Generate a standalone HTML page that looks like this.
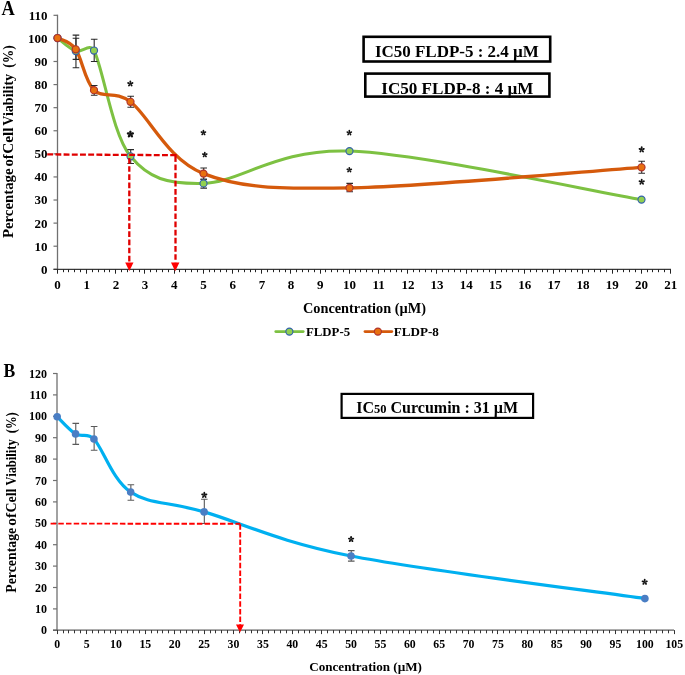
<!DOCTYPE html><html><head><meta charset="utf-8"><style>html,body{margin:0;padding:0;background:#fff;overflow:hidden}svg{display:block;will-change:transform}text{font-family:"Liberation Serif", serif;font-weight:bold;fill:#000}</style></head><body>
<svg width="685" height="675" viewBox="0 0 685 675">
<rect width="685" height="675" fill="#fff"/>
<line x1="57.50" y1="14.71" x2="57.50" y2="269.40" stroke="#707070" stroke-width="1.3"/>
<line x1="53.50" y1="269.30" x2="57.50" y2="269.30" stroke="#707070" stroke-width="1.2"/>
<text x="47.50" y="273.72" font-size="13" text-anchor="end">0</text>
<line x1="53.50" y1="246.21" x2="57.50" y2="246.21" stroke="#707070" stroke-width="1.2"/>
<text x="47.50" y="250.63" font-size="13" text-anchor="end">10</text>
<line x1="53.50" y1="223.12" x2="57.50" y2="223.12" stroke="#707070" stroke-width="1.2"/>
<text x="47.50" y="227.54" font-size="13" text-anchor="end">20</text>
<line x1="53.50" y1="200.03" x2="57.50" y2="200.03" stroke="#707070" stroke-width="1.2"/>
<text x="47.50" y="204.45" font-size="13" text-anchor="end">30</text>
<line x1="53.50" y1="176.94" x2="57.50" y2="176.94" stroke="#707070" stroke-width="1.2"/>
<text x="47.50" y="181.36" font-size="13" text-anchor="end">40</text>
<line x1="53.50" y1="153.85" x2="57.50" y2="153.85" stroke="#707070" stroke-width="1.2"/>
<text x="47.50" y="158.27" font-size="13" text-anchor="end">50</text>
<line x1="53.50" y1="130.76" x2="57.50" y2="130.76" stroke="#707070" stroke-width="1.2"/>
<text x="47.50" y="135.18" font-size="13" text-anchor="end">60</text>
<line x1="53.50" y1="107.67" x2="57.50" y2="107.67" stroke="#707070" stroke-width="1.2"/>
<text x="47.50" y="112.09" font-size="13" text-anchor="end">70</text>
<line x1="53.50" y1="84.58" x2="57.50" y2="84.58" stroke="#707070" stroke-width="1.2"/>
<text x="47.50" y="89.00" font-size="13" text-anchor="end">80</text>
<line x1="53.50" y1="61.49" x2="57.50" y2="61.49" stroke="#707070" stroke-width="1.2"/>
<text x="47.50" y="65.91" font-size="13" text-anchor="end">90</text>
<line x1="53.50" y1="38.40" x2="57.50" y2="38.40" stroke="#707070" stroke-width="1.2"/>
<text x="47.50" y="42.82" font-size="13" text-anchor="end">100</text>
<line x1="53.50" y1="15.31" x2="57.50" y2="15.31" stroke="#707070" stroke-width="1.2"/>
<text x="47.50" y="19.73" font-size="13" text-anchor="end">110</text>
<line x1="53.50" y1="269.40" x2="671.00" y2="269.40" stroke="#383838" stroke-width="1.2"/>
<line x1="57.50" y1="269.40" x2="57.50" y2="273.70" stroke="#222" stroke-width="1"/>
<text x="57.50" y="289.00" font-size="13" text-anchor="middle">0</text>
<line x1="63.50" y1="269.40" x2="63.50" y2="272.20" stroke="#222" stroke-width="1"/>
<line x1="68.50" y1="269.40" x2="68.50" y2="272.20" stroke="#222" stroke-width="1"/>
<line x1="74.50" y1="269.40" x2="74.50" y2="272.20" stroke="#222" stroke-width="1"/>
<line x1="80.50" y1="269.40" x2="80.50" y2="272.20" stroke="#222" stroke-width="1"/>
<line x1="86.50" y1="269.40" x2="86.50" y2="273.70" stroke="#222" stroke-width="1"/>
<text x="86.70" y="289.00" font-size="13" text-anchor="middle">1</text>
<line x1="92.50" y1="269.40" x2="92.50" y2="272.20" stroke="#222" stroke-width="1"/>
<line x1="98.50" y1="269.40" x2="98.50" y2="272.20" stroke="#222" stroke-width="1"/>
<line x1="104.50" y1="269.40" x2="104.50" y2="272.20" stroke="#222" stroke-width="1"/>
<line x1="109.50" y1="269.40" x2="109.50" y2="272.20" stroke="#222" stroke-width="1"/>
<line x1="115.50" y1="269.40" x2="115.50" y2="273.70" stroke="#222" stroke-width="1"/>
<text x="115.90" y="289.00" font-size="13" text-anchor="middle">2</text>
<line x1="121.50" y1="269.40" x2="121.50" y2="272.20" stroke="#222" stroke-width="1"/>
<line x1="127.50" y1="269.40" x2="127.50" y2="272.20" stroke="#222" stroke-width="1"/>
<line x1="133.50" y1="269.40" x2="133.50" y2="272.20" stroke="#222" stroke-width="1"/>
<line x1="139.50" y1="269.40" x2="139.50" y2="272.20" stroke="#222" stroke-width="1"/>
<line x1="144.50" y1="269.40" x2="144.50" y2="273.70" stroke="#222" stroke-width="1"/>
<text x="145.10" y="289.00" font-size="13" text-anchor="middle">3</text>
<line x1="150.50" y1="269.40" x2="150.50" y2="272.20" stroke="#222" stroke-width="1"/>
<line x1="156.50" y1="269.40" x2="156.50" y2="272.20" stroke="#222" stroke-width="1"/>
<line x1="162.50" y1="269.40" x2="162.50" y2="272.20" stroke="#222" stroke-width="1"/>
<line x1="168.50" y1="269.40" x2="168.50" y2="272.20" stroke="#222" stroke-width="1"/>
<line x1="174.50" y1="269.40" x2="174.50" y2="273.70" stroke="#222" stroke-width="1"/>
<text x="174.30" y="289.00" font-size="13" text-anchor="middle">4</text>
<line x1="179.50" y1="269.40" x2="179.50" y2="272.20" stroke="#222" stroke-width="1"/>
<line x1="185.50" y1="269.40" x2="185.50" y2="272.20" stroke="#222" stroke-width="1"/>
<line x1="191.50" y1="269.40" x2="191.50" y2="272.20" stroke="#222" stroke-width="1"/>
<line x1="197.50" y1="269.40" x2="197.50" y2="272.20" stroke="#222" stroke-width="1"/>
<line x1="203.50" y1="269.40" x2="203.50" y2="273.70" stroke="#222" stroke-width="1"/>
<text x="203.50" y="289.00" font-size="13" text-anchor="middle">5</text>
<line x1="209.50" y1="269.40" x2="209.50" y2="272.20" stroke="#222" stroke-width="1"/>
<line x1="214.50" y1="269.40" x2="214.50" y2="272.20" stroke="#222" stroke-width="1"/>
<line x1="220.50" y1="269.40" x2="220.50" y2="272.20" stroke="#222" stroke-width="1"/>
<line x1="226.50" y1="269.40" x2="226.50" y2="272.20" stroke="#222" stroke-width="1"/>
<line x1="232.50" y1="269.40" x2="232.50" y2="273.70" stroke="#222" stroke-width="1"/>
<text x="232.70" y="289.00" font-size="13" text-anchor="middle">6</text>
<line x1="238.50" y1="269.40" x2="238.50" y2="272.20" stroke="#222" stroke-width="1"/>
<line x1="244.50" y1="269.40" x2="244.50" y2="272.20" stroke="#222" stroke-width="1"/>
<line x1="250.50" y1="269.40" x2="250.50" y2="272.20" stroke="#222" stroke-width="1"/>
<line x1="255.50" y1="269.40" x2="255.50" y2="272.20" stroke="#222" stroke-width="1"/>
<line x1="261.50" y1="269.40" x2="261.50" y2="273.70" stroke="#222" stroke-width="1"/>
<text x="261.90" y="289.00" font-size="13" text-anchor="middle">7</text>
<line x1="267.50" y1="269.40" x2="267.50" y2="272.20" stroke="#222" stroke-width="1"/>
<line x1="273.50" y1="269.40" x2="273.50" y2="272.20" stroke="#222" stroke-width="1"/>
<line x1="279.50" y1="269.40" x2="279.50" y2="272.20" stroke="#222" stroke-width="1"/>
<line x1="285.50" y1="269.40" x2="285.50" y2="272.20" stroke="#222" stroke-width="1"/>
<line x1="290.50" y1="269.40" x2="290.50" y2="273.70" stroke="#222" stroke-width="1"/>
<text x="291.10" y="289.00" font-size="13" text-anchor="middle">8</text>
<line x1="296.50" y1="269.40" x2="296.50" y2="272.20" stroke="#222" stroke-width="1"/>
<line x1="302.50" y1="269.40" x2="302.50" y2="272.20" stroke="#222" stroke-width="1"/>
<line x1="308.50" y1="269.40" x2="308.50" y2="272.20" stroke="#222" stroke-width="1"/>
<line x1="314.50" y1="269.40" x2="314.50" y2="272.20" stroke="#222" stroke-width="1"/>
<line x1="320.50" y1="269.40" x2="320.50" y2="273.70" stroke="#222" stroke-width="1"/>
<text x="320.30" y="289.00" font-size="13" text-anchor="middle">9</text>
<line x1="325.50" y1="269.40" x2="325.50" y2="272.20" stroke="#222" stroke-width="1"/>
<line x1="331.50" y1="269.40" x2="331.50" y2="272.20" stroke="#222" stroke-width="1"/>
<line x1="337.50" y1="269.40" x2="337.50" y2="272.20" stroke="#222" stroke-width="1"/>
<line x1="343.50" y1="269.40" x2="343.50" y2="272.20" stroke="#222" stroke-width="1"/>
<line x1="349.50" y1="269.40" x2="349.50" y2="273.70" stroke="#222" stroke-width="1"/>
<text x="349.50" y="289.00" font-size="13" text-anchor="middle">10</text>
<line x1="355.50" y1="269.40" x2="355.50" y2="272.20" stroke="#222" stroke-width="1"/>
<line x1="360.50" y1="269.40" x2="360.50" y2="272.20" stroke="#222" stroke-width="1"/>
<line x1="366.50" y1="269.40" x2="366.50" y2="272.20" stroke="#222" stroke-width="1"/>
<line x1="372.50" y1="269.40" x2="372.50" y2="272.20" stroke="#222" stroke-width="1"/>
<line x1="378.50" y1="269.40" x2="378.50" y2="273.70" stroke="#222" stroke-width="1"/>
<text x="378.70" y="289.00" font-size="13" text-anchor="middle">11</text>
<line x1="384.50" y1="269.40" x2="384.50" y2="272.20" stroke="#222" stroke-width="1"/>
<line x1="390.50" y1="269.40" x2="390.50" y2="272.20" stroke="#222" stroke-width="1"/>
<line x1="396.50" y1="269.40" x2="396.50" y2="272.20" stroke="#222" stroke-width="1"/>
<line x1="401.50" y1="269.40" x2="401.50" y2="272.20" stroke="#222" stroke-width="1"/>
<line x1="407.50" y1="269.40" x2="407.50" y2="273.70" stroke="#222" stroke-width="1"/>
<text x="407.90" y="289.00" font-size="13" text-anchor="middle">12</text>
<line x1="413.50" y1="269.40" x2="413.50" y2="272.20" stroke="#222" stroke-width="1"/>
<line x1="419.50" y1="269.40" x2="419.50" y2="272.20" stroke="#222" stroke-width="1"/>
<line x1="425.50" y1="269.40" x2="425.50" y2="272.20" stroke="#222" stroke-width="1"/>
<line x1="431.50" y1="269.40" x2="431.50" y2="272.20" stroke="#222" stroke-width="1"/>
<line x1="436.50" y1="269.40" x2="436.50" y2="273.70" stroke="#222" stroke-width="1"/>
<text x="437.10" y="289.00" font-size="13" text-anchor="middle">13</text>
<line x1="442.50" y1="269.40" x2="442.50" y2="272.20" stroke="#222" stroke-width="1"/>
<line x1="448.50" y1="269.40" x2="448.50" y2="272.20" stroke="#222" stroke-width="1"/>
<line x1="454.50" y1="269.40" x2="454.50" y2="272.20" stroke="#222" stroke-width="1"/>
<line x1="460.50" y1="269.40" x2="460.50" y2="272.20" stroke="#222" stroke-width="1"/>
<line x1="466.50" y1="269.40" x2="466.50" y2="273.70" stroke="#222" stroke-width="1"/>
<text x="466.30" y="289.00" font-size="13" text-anchor="middle">14</text>
<line x1="471.50" y1="269.40" x2="471.50" y2="272.20" stroke="#222" stroke-width="1"/>
<line x1="477.50" y1="269.40" x2="477.50" y2="272.20" stroke="#222" stroke-width="1"/>
<line x1="483.50" y1="269.40" x2="483.50" y2="272.20" stroke="#222" stroke-width="1"/>
<line x1="489.50" y1="269.40" x2="489.50" y2="272.20" stroke="#222" stroke-width="1"/>
<line x1="495.50" y1="269.40" x2="495.50" y2="273.70" stroke="#222" stroke-width="1"/>
<text x="495.50" y="289.00" font-size="13" text-anchor="middle">15</text>
<line x1="501.50" y1="269.40" x2="501.50" y2="272.20" stroke="#222" stroke-width="1"/>
<line x1="506.50" y1="269.40" x2="506.50" y2="272.20" stroke="#222" stroke-width="1"/>
<line x1="512.50" y1="269.40" x2="512.50" y2="272.20" stroke="#222" stroke-width="1"/>
<line x1="518.50" y1="269.40" x2="518.50" y2="272.20" stroke="#222" stroke-width="1"/>
<line x1="524.50" y1="269.40" x2="524.50" y2="273.70" stroke="#222" stroke-width="1"/>
<text x="524.70" y="289.00" font-size="13" text-anchor="middle">16</text>
<line x1="530.50" y1="269.40" x2="530.50" y2="272.20" stroke="#222" stroke-width="1"/>
<line x1="536.50" y1="269.40" x2="536.50" y2="272.20" stroke="#222" stroke-width="1"/>
<line x1="542.50" y1="269.40" x2="542.50" y2="272.20" stroke="#222" stroke-width="1"/>
<line x1="547.50" y1="269.40" x2="547.50" y2="272.20" stroke="#222" stroke-width="1"/>
<line x1="553.50" y1="269.40" x2="553.50" y2="273.70" stroke="#222" stroke-width="1"/>
<text x="553.90" y="289.00" font-size="13" text-anchor="middle">17</text>
<line x1="559.50" y1="269.40" x2="559.50" y2="272.20" stroke="#222" stroke-width="1"/>
<line x1="565.50" y1="269.40" x2="565.50" y2="272.20" stroke="#222" stroke-width="1"/>
<line x1="571.50" y1="269.40" x2="571.50" y2="272.20" stroke="#222" stroke-width="1"/>
<line x1="577.50" y1="269.40" x2="577.50" y2="272.20" stroke="#222" stroke-width="1"/>
<line x1="582.50" y1="269.40" x2="582.50" y2="273.70" stroke="#222" stroke-width="1"/>
<text x="583.10" y="289.00" font-size="13" text-anchor="middle">18</text>
<line x1="588.50" y1="269.40" x2="588.50" y2="272.20" stroke="#222" stroke-width="1"/>
<line x1="594.50" y1="269.40" x2="594.50" y2="272.20" stroke="#222" stroke-width="1"/>
<line x1="600.50" y1="269.40" x2="600.50" y2="272.20" stroke="#222" stroke-width="1"/>
<line x1="606.50" y1="269.40" x2="606.50" y2="272.20" stroke="#222" stroke-width="1"/>
<line x1="612.50" y1="269.40" x2="612.50" y2="273.70" stroke="#222" stroke-width="1"/>
<text x="612.30" y="289.00" font-size="13" text-anchor="middle">19</text>
<line x1="617.50" y1="269.40" x2="617.50" y2="272.20" stroke="#222" stroke-width="1"/>
<line x1="623.50" y1="269.40" x2="623.50" y2="272.20" stroke="#222" stroke-width="1"/>
<line x1="629.50" y1="269.40" x2="629.50" y2="272.20" stroke="#222" stroke-width="1"/>
<line x1="635.50" y1="269.40" x2="635.50" y2="272.20" stroke="#222" stroke-width="1"/>
<line x1="641.50" y1="269.40" x2="641.50" y2="273.70" stroke="#222" stroke-width="1"/>
<text x="641.50" y="289.00" font-size="13" text-anchor="middle">20</text>
<line x1="647.50" y1="269.40" x2="647.50" y2="272.20" stroke="#222" stroke-width="1"/>
<line x1="652.50" y1="269.40" x2="652.50" y2="272.20" stroke="#222" stroke-width="1"/>
<line x1="658.50" y1="269.40" x2="658.50" y2="272.20" stroke="#222" stroke-width="1"/>
<line x1="664.50" y1="269.40" x2="664.50" y2="272.20" stroke="#222" stroke-width="1"/>
<line x1="670.50" y1="269.40" x2="670.50" y2="273.70" stroke="#222" stroke-width="1"/>
<text x="670.70" y="289.00" font-size="13" text-anchor="middle">21</text>
<path d="M57.50,38.00 C60.54,40.17 69.67,48.92 75.75,51.00 C81.83,53.08 89.79,42.40 94.00,50.50 C103.12,68.05 112.25,134.15 130.50,156.30 C148.75,178.45 167.00,184.27 203.50,183.40 C240.00,182.53 276.50,148.40 349.50,151.10 C422.50,153.80 592.83,191.52 641.50,199.60" fill="none" stroke="#7DC142" stroke-width="3" stroke-linecap="round"/>
<path d="M57.50,38.00 C60.54,39.88 69.67,40.60 75.75,49.30 C81.83,58.00 84.88,81.45 94.00,90.20 C103.12,98.95 115.27,90.20 130.50,101.80 C148.75,115.70 167.00,159.25 203.50,173.60 C240.00,187.95 276.50,188.95 349.50,187.90 C422.50,186.85 592.83,170.73 641.50,167.30" fill="none" stroke="#D55A0C" stroke-width="3.3" stroke-linecap="round"/>
<path d="M75.95,35.10 V67.70 M72.65,35.10 H79.25 M72.65,67.70 H79.25" stroke="#2a2a2a" stroke-width="1.1" fill="none"/>
<path d="M94.20,39.20 V61.50 M90.90,39.20 H97.50 M90.90,61.50 H97.50" stroke="#2a2a2a" stroke-width="1.1" fill="none"/>
<path d="M130.70,149.60 V163.50 M127.40,149.60 H134.00 M127.40,163.50 H134.00" stroke="#2a2a2a" stroke-width="1.1" fill="none"/>
<path d="M203.70,179.30 V188.10 M200.40,179.30 H207.00 M200.40,188.10 H207.00" stroke="#2a2a2a" stroke-width="1.1" fill="none"/>
<path d="M75.95,38.30 V59.40 M72.65,38.30 H79.25 M72.65,59.40 H79.25" stroke="#2a2a2a" stroke-width="1.1" fill="none"/>
<path d="M94.20,85.50 V95.20 M90.90,85.50 H97.50 M90.90,95.20 H97.50" stroke="#2a2a2a" stroke-width="1.1" fill="none"/>
<path d="M130.70,96.30 V107.30 M127.40,96.30 H134.00 M127.40,107.30 H134.00" stroke="#2a2a2a" stroke-width="1.1" fill="none"/>
<path d="M203.70,168.00 V179.30 M200.40,168.00 H207.00 M200.40,179.30 H207.00" stroke="#2a2a2a" stroke-width="1.1" fill="none"/>
<path d="M349.70,183.40 V191.70 M346.40,183.40 H353.00 M346.40,191.70 H353.00" stroke="#2a2a2a" stroke-width="1.1" fill="none"/>
<path d="M641.70,161.30 V173.30 M638.40,161.30 H645.00 M638.40,173.30 H645.00" stroke="#2a2a2a" stroke-width="1.1" fill="none"/>
<circle cx="57.50" cy="38.00" r="3.55" fill="#92D050" stroke="#3462AC" stroke-width="1.15"/>
<circle cx="75.75" cy="51.00" r="3.55" fill="#92D050" stroke="#3462AC" stroke-width="1.15"/>
<circle cx="94.00" cy="50.50" r="3.55" fill="#92D050" stroke="#3462AC" stroke-width="1.15"/>
<circle cx="130.50" cy="156.30" r="3.55" fill="#92D050" stroke="#3462AC" stroke-width="1.15"/>
<circle cx="203.50" cy="183.40" r="3.55" fill="#92D050" stroke="#3462AC" stroke-width="1.15"/>
<circle cx="349.50" cy="151.10" r="3.55" fill="#92D050" stroke="#3462AC" stroke-width="1.15"/>
<circle cx="641.50" cy="199.60" r="3.55" fill="#92D050" stroke="#3462AC" stroke-width="1.15"/>
<circle cx="57.50" cy="38.00" r="3.55" fill="#E8700F" stroke="#B0342C" stroke-width="1.15"/>
<circle cx="75.75" cy="49.30" r="3.55" fill="#E8700F" stroke="#B0342C" stroke-width="1.15"/>
<circle cx="94.00" cy="90.20" r="3.55" fill="#E8700F" stroke="#B0342C" stroke-width="1.15"/>
<circle cx="130.50" cy="101.80" r="3.55" fill="#E8700F" stroke="#B0342C" stroke-width="1.15"/>
<circle cx="203.50" cy="173.60" r="3.55" fill="#E8700F" stroke="#B0342C" stroke-width="1.15"/>
<circle cx="349.50" cy="187.90" r="3.55" fill="#E8700F" stroke="#B0342C" stroke-width="1.15"/>
<circle cx="641.50" cy="167.30" r="3.55" fill="#E8700F" stroke="#B0342C" stroke-width="1.15"/>
<g fill="#111"><ellipse cx="130.30" cy="81.75" rx="1.30" ry="0.94" transform="rotate(-90.0 130.30 81.75)"/><ellipse cx="132.15" cy="83.10" rx="1.30" ry="0.94" transform="rotate(-18.0 132.15 83.10)"/><ellipse cx="131.45" cy="85.28" rx="1.30" ry="0.94" transform="rotate(54.0 131.45 85.28)"/><ellipse cx="129.15" cy="85.28" rx="1.30" ry="0.94" transform="rotate(126.0 129.15 85.28)"/><ellipse cx="128.45" cy="83.10" rx="1.30" ry="0.94" transform="rotate(198.0 128.45 83.10)"/><circle cx="130.30" cy="83.70" r="1.04"/></g>
<g fill="#111"><ellipse cx="130.40" cy="132.01" rx="1.59" ry="1.25" transform="rotate(-90.0 130.40 132.01)"/><ellipse cx="132.49" cy="133.52" rx="1.59" ry="1.25" transform="rotate(-18.0 132.49 133.52)"/><ellipse cx="131.69" cy="135.97" rx="1.59" ry="1.25" transform="rotate(54.0 131.69 135.97)"/><ellipse cx="129.11" cy="135.97" rx="1.59" ry="1.25" transform="rotate(126.0 129.11 135.97)"/><ellipse cx="128.31" cy="133.52" rx="1.59" ry="1.25" transform="rotate(198.0 128.31 133.52)"/><circle cx="130.40" cy="134.20" r="1.21"/></g>
<g fill="#111"><ellipse cx="203.40" cy="130.90" rx="1.20" ry="0.87" transform="rotate(-90.0 203.40 130.90)"/><ellipse cx="205.11" cy="132.14" rx="1.20" ry="0.87" transform="rotate(-18.0 205.11 132.14)"/><ellipse cx="204.46" cy="134.16" rx="1.20" ry="0.87" transform="rotate(54.0 204.46 134.16)"/><ellipse cx="202.34" cy="134.16" rx="1.20" ry="0.87" transform="rotate(126.0 202.34 134.16)"/><ellipse cx="201.69" cy="132.14" rx="1.20" ry="0.87" transform="rotate(198.0 201.69 132.14)"/><circle cx="203.40" cy="132.70" r="0.96"/></g>
<g fill="#111"><ellipse cx="204.80" cy="152.90" rx="1.20" ry="0.87" transform="rotate(-90.0 204.80 152.90)"/><ellipse cx="206.51" cy="154.14" rx="1.20" ry="0.87" transform="rotate(-18.0 206.51 154.14)"/><ellipse cx="205.86" cy="156.16" rx="1.20" ry="0.87" transform="rotate(54.0 205.86 156.16)"/><ellipse cx="203.74" cy="156.16" rx="1.20" ry="0.87" transform="rotate(126.0 203.74 156.16)"/><ellipse cx="203.09" cy="154.14" rx="1.20" ry="0.87" transform="rotate(198.0 203.09 154.14)"/><circle cx="204.80" cy="154.70" r="0.96"/></g>
<g fill="#111"><ellipse cx="349.30" cy="131.00" rx="1.20" ry="0.87" transform="rotate(-90.0 349.30 131.00)"/><ellipse cx="351.01" cy="132.24" rx="1.20" ry="0.87" transform="rotate(-18.0 351.01 132.24)"/><ellipse cx="350.36" cy="134.26" rx="1.20" ry="0.87" transform="rotate(54.0 350.36 134.26)"/><ellipse cx="348.24" cy="134.26" rx="1.20" ry="0.87" transform="rotate(126.0 348.24 134.26)"/><ellipse cx="347.59" cy="132.24" rx="1.20" ry="0.87" transform="rotate(198.0 347.59 132.24)"/><circle cx="349.30" cy="132.80" r="0.96"/></g>
<g fill="#111"><ellipse cx="349.30" cy="168.10" rx="1.20" ry="0.87" transform="rotate(-90.0 349.30 168.10)"/><ellipse cx="351.01" cy="169.34" rx="1.20" ry="0.87" transform="rotate(-18.0 351.01 169.34)"/><ellipse cx="350.36" cy="171.36" rx="1.20" ry="0.87" transform="rotate(54.0 350.36 171.36)"/><ellipse cx="348.24" cy="171.36" rx="1.20" ry="0.87" transform="rotate(126.0 348.24 171.36)"/><ellipse cx="347.59" cy="169.34" rx="1.20" ry="0.87" transform="rotate(198.0 347.59 169.34)"/><circle cx="349.30" cy="169.90" r="0.96"/></g>
<g fill="#111"><ellipse cx="641.70" cy="147.65" rx="1.30" ry="0.94" transform="rotate(-90.0 641.70 147.65)"/><ellipse cx="643.55" cy="149.00" rx="1.30" ry="0.94" transform="rotate(-18.0 643.55 149.00)"/><ellipse cx="642.85" cy="151.18" rx="1.30" ry="0.94" transform="rotate(54.0 642.85 151.18)"/><ellipse cx="640.55" cy="151.18" rx="1.30" ry="0.94" transform="rotate(126.0 640.55 151.18)"/><ellipse cx="639.85" cy="149.00" rx="1.30" ry="0.94" transform="rotate(198.0 639.85 149.00)"/><circle cx="641.70" cy="149.60" r="1.04"/></g>
<g fill="#111"><ellipse cx="641.70" cy="179.95" rx="1.30" ry="0.94" transform="rotate(-90.0 641.70 179.95)"/><ellipse cx="643.55" cy="181.30" rx="1.30" ry="0.94" transform="rotate(-18.0 643.55 181.30)"/><ellipse cx="642.85" cy="183.48" rx="1.30" ry="0.94" transform="rotate(54.0 642.85 183.48)"/><ellipse cx="640.55" cy="183.48" rx="1.30" ry="0.94" transform="rotate(126.0 640.55 183.48)"/><ellipse cx="639.85" cy="181.30" rx="1.30" ry="0.94" transform="rotate(198.0 639.85 181.30)"/><circle cx="641.70" cy="181.90" r="1.04"/></g>
<rect x="363.6" y="36.8" width="186.6" height="24.7" fill="#fff" stroke="#000" stroke-width="2.6"/>
<rect x="365.3" y="73.6" width="184.1" height="23.0" fill="#fff" stroke="#000" stroke-width="2.6"/>
<line x1="275.7" y1="331.6" x2="303.3" y2="331.6" stroke="#7DC142" stroke-width="2.6" stroke-linecap="round"/>
<circle cx="289.4" cy="331.6" r="3.55" fill="#92D050" stroke="#3462AC" stroke-width="1.15"/>
<line x1="365.0" y1="331.6" x2="391.8" y2="331.6" stroke="#D55A0C" stroke-width="2.8" stroke-linecap="round"/>
<circle cx="377.9" cy="331.6" r="3.55" fill="#E8700F" stroke="#B0342C" stroke-width="1.15"/>
<line x1="57.00" y1="372.90" x2="57.00" y2="630.10" stroke="#707070" stroke-width="1.3"/>
<line x1="53.00" y1="630.30" x2="57.00" y2="630.30" stroke="#707070" stroke-width="1.2"/>
<text x="46.90" y="634.38" font-size="12" text-anchor="end">0</text>
<line x1="53.00" y1="608.90" x2="57.00" y2="608.90" stroke="#707070" stroke-width="1.2"/>
<text x="46.90" y="612.98" font-size="12" text-anchor="end">10</text>
<line x1="53.00" y1="587.50" x2="57.00" y2="587.50" stroke="#707070" stroke-width="1.2"/>
<text x="46.90" y="591.58" font-size="12" text-anchor="end">20</text>
<line x1="53.00" y1="566.10" x2="57.00" y2="566.10" stroke="#707070" stroke-width="1.2"/>
<text x="46.90" y="570.18" font-size="12" text-anchor="end">30</text>
<line x1="53.00" y1="544.70" x2="57.00" y2="544.70" stroke="#707070" stroke-width="1.2"/>
<text x="46.90" y="548.78" font-size="12" text-anchor="end">40</text>
<line x1="53.00" y1="523.30" x2="57.00" y2="523.30" stroke="#707070" stroke-width="1.2"/>
<text x="46.90" y="527.38" font-size="12" text-anchor="end">50</text>
<line x1="53.00" y1="501.90" x2="57.00" y2="501.90" stroke="#707070" stroke-width="1.2"/>
<text x="46.90" y="505.98" font-size="12" text-anchor="end">60</text>
<line x1="53.00" y1="480.50" x2="57.00" y2="480.50" stroke="#707070" stroke-width="1.2"/>
<text x="46.90" y="484.58" font-size="12" text-anchor="end">70</text>
<line x1="53.00" y1="459.10" x2="57.00" y2="459.10" stroke="#707070" stroke-width="1.2"/>
<text x="46.90" y="463.18" font-size="12" text-anchor="end">80</text>
<line x1="53.00" y1="437.70" x2="57.00" y2="437.70" stroke="#707070" stroke-width="1.2"/>
<text x="46.90" y="441.78" font-size="12" text-anchor="end">90</text>
<line x1="53.00" y1="416.30" x2="57.00" y2="416.30" stroke="#707070" stroke-width="1.2"/>
<text x="46.90" y="420.38" font-size="12" text-anchor="end">100</text>
<line x1="53.00" y1="394.90" x2="57.00" y2="394.90" stroke="#707070" stroke-width="1.2"/>
<text x="46.90" y="398.98" font-size="12" text-anchor="end">110</text>
<line x1="53.00" y1="373.50" x2="57.00" y2="373.50" stroke="#707070" stroke-width="1.2"/>
<text x="46.90" y="377.58" font-size="12" text-anchor="end">120</text>
<line x1="53.00" y1="630.10" x2="674.00" y2="630.10" stroke="#5c5c5c" stroke-width="1.2"/>
<line x1="57.50" y1="630.10" x2="57.50" y2="634.10" stroke="#333" stroke-width="1"/>
<text x="57.20" y="648.20" font-size="11.8" text-anchor="middle">0</text>
<line x1="63.50" y1="630.10" x2="63.50" y2="633.30" stroke="#333" stroke-width="1"/>
<line x1="68.50" y1="630.10" x2="68.50" y2="633.30" stroke="#333" stroke-width="1"/>
<line x1="74.50" y1="630.10" x2="74.50" y2="633.30" stroke="#333" stroke-width="1"/>
<line x1="80.50" y1="630.10" x2="80.50" y2="633.30" stroke="#333" stroke-width="1"/>
<line x1="86.50" y1="630.10" x2="86.50" y2="634.10" stroke="#333" stroke-width="1"/>
<text x="86.59" y="648.20" font-size="11.8" text-anchor="middle">5</text>
<line x1="92.50" y1="630.10" x2="92.50" y2="633.30" stroke="#333" stroke-width="1"/>
<line x1="98.50" y1="630.10" x2="98.50" y2="633.30" stroke="#333" stroke-width="1"/>
<line x1="104.50" y1="630.10" x2="104.50" y2="633.30" stroke="#333" stroke-width="1"/>
<line x1="110.50" y1="630.10" x2="110.50" y2="633.30" stroke="#333" stroke-width="1"/>
<line x1="115.50" y1="630.10" x2="115.50" y2="634.10" stroke="#333" stroke-width="1"/>
<text x="115.97" y="648.20" font-size="11.8" text-anchor="middle">10</text>
<line x1="121.50" y1="630.10" x2="121.50" y2="633.30" stroke="#333" stroke-width="1"/>
<line x1="127.50" y1="630.10" x2="127.50" y2="633.30" stroke="#333" stroke-width="1"/>
<line x1="133.50" y1="630.10" x2="133.50" y2="633.30" stroke="#333" stroke-width="1"/>
<line x1="139.50" y1="630.10" x2="139.50" y2="633.30" stroke="#333" stroke-width="1"/>
<line x1="145.50" y1="630.10" x2="145.50" y2="634.10" stroke="#333" stroke-width="1"/>
<text x="145.36" y="648.20" font-size="11.8" text-anchor="middle">15</text>
<line x1="151.50" y1="630.10" x2="151.50" y2="633.30" stroke="#333" stroke-width="1"/>
<line x1="157.50" y1="630.10" x2="157.50" y2="633.30" stroke="#333" stroke-width="1"/>
<line x1="162.50" y1="630.10" x2="162.50" y2="633.30" stroke="#333" stroke-width="1"/>
<line x1="168.50" y1="630.10" x2="168.50" y2="633.30" stroke="#333" stroke-width="1"/>
<line x1="174.50" y1="630.10" x2="174.50" y2="634.10" stroke="#333" stroke-width="1"/>
<text x="174.74" y="648.20" font-size="11.8" text-anchor="middle">20</text>
<line x1="180.50" y1="630.10" x2="180.50" y2="633.30" stroke="#333" stroke-width="1"/>
<line x1="186.50" y1="630.10" x2="186.50" y2="633.30" stroke="#333" stroke-width="1"/>
<line x1="192.50" y1="630.10" x2="192.50" y2="633.30" stroke="#333" stroke-width="1"/>
<line x1="198.50" y1="630.10" x2="198.50" y2="633.30" stroke="#333" stroke-width="1"/>
<line x1="204.50" y1="630.10" x2="204.50" y2="634.10" stroke="#333" stroke-width="1"/>
<text x="204.12" y="648.20" font-size="11.8" text-anchor="middle">25</text>
<line x1="210.50" y1="630.10" x2="210.50" y2="633.30" stroke="#333" stroke-width="1"/>
<line x1="215.50" y1="630.10" x2="215.50" y2="633.30" stroke="#333" stroke-width="1"/>
<line x1="221.50" y1="630.10" x2="221.50" y2="633.30" stroke="#333" stroke-width="1"/>
<line x1="227.50" y1="630.10" x2="227.50" y2="633.30" stroke="#333" stroke-width="1"/>
<line x1="233.50" y1="630.10" x2="233.50" y2="634.10" stroke="#333" stroke-width="1"/>
<text x="233.51" y="648.20" font-size="11.8" text-anchor="middle">30</text>
<line x1="239.50" y1="630.10" x2="239.50" y2="633.30" stroke="#333" stroke-width="1"/>
<line x1="245.50" y1="630.10" x2="245.50" y2="633.30" stroke="#333" stroke-width="1"/>
<line x1="251.50" y1="630.10" x2="251.50" y2="633.30" stroke="#333" stroke-width="1"/>
<line x1="257.50" y1="630.10" x2="257.50" y2="633.30" stroke="#333" stroke-width="1"/>
<line x1="262.50" y1="630.10" x2="262.50" y2="634.10" stroke="#333" stroke-width="1"/>
<text x="262.89" y="648.20" font-size="11.8" text-anchor="middle">35</text>
<line x1="268.50" y1="630.10" x2="268.50" y2="633.30" stroke="#333" stroke-width="1"/>
<line x1="274.50" y1="630.10" x2="274.50" y2="633.30" stroke="#333" stroke-width="1"/>
<line x1="280.50" y1="630.10" x2="280.50" y2="633.30" stroke="#333" stroke-width="1"/>
<line x1="286.50" y1="630.10" x2="286.50" y2="633.30" stroke="#333" stroke-width="1"/>
<line x1="292.50" y1="630.10" x2="292.50" y2="634.10" stroke="#333" stroke-width="1"/>
<text x="292.28" y="648.20" font-size="11.8" text-anchor="middle">40</text>
<line x1="298.50" y1="630.10" x2="298.50" y2="633.30" stroke="#333" stroke-width="1"/>
<line x1="304.50" y1="630.10" x2="304.50" y2="633.30" stroke="#333" stroke-width="1"/>
<line x1="309.50" y1="630.10" x2="309.50" y2="633.30" stroke="#333" stroke-width="1"/>
<line x1="315.50" y1="630.10" x2="315.50" y2="633.30" stroke="#333" stroke-width="1"/>
<line x1="321.50" y1="630.10" x2="321.50" y2="634.10" stroke="#333" stroke-width="1"/>
<text x="321.66" y="648.20" font-size="11.8" text-anchor="middle">45</text>
<line x1="327.50" y1="630.10" x2="327.50" y2="633.30" stroke="#333" stroke-width="1"/>
<line x1="333.50" y1="630.10" x2="333.50" y2="633.30" stroke="#333" stroke-width="1"/>
<line x1="339.50" y1="630.10" x2="339.50" y2="633.30" stroke="#333" stroke-width="1"/>
<line x1="345.50" y1="630.10" x2="345.50" y2="633.30" stroke="#333" stroke-width="1"/>
<line x1="351.50" y1="630.10" x2="351.50" y2="634.10" stroke="#333" stroke-width="1"/>
<text x="351.05" y="648.20" font-size="11.8" text-anchor="middle">50</text>
<line x1="356.50" y1="630.10" x2="356.50" y2="633.30" stroke="#333" stroke-width="1"/>
<line x1="362.50" y1="630.10" x2="362.50" y2="633.30" stroke="#333" stroke-width="1"/>
<line x1="368.50" y1="630.10" x2="368.50" y2="633.30" stroke="#333" stroke-width="1"/>
<line x1="374.50" y1="630.10" x2="374.50" y2="633.30" stroke="#333" stroke-width="1"/>
<line x1="380.50" y1="630.10" x2="380.50" y2="634.10" stroke="#333" stroke-width="1"/>
<text x="380.44" y="648.20" font-size="11.8" text-anchor="middle">55</text>
<line x1="386.50" y1="630.10" x2="386.50" y2="633.30" stroke="#333" stroke-width="1"/>
<line x1="392.50" y1="630.10" x2="392.50" y2="633.30" stroke="#333" stroke-width="1"/>
<line x1="398.50" y1="630.10" x2="398.50" y2="633.30" stroke="#333" stroke-width="1"/>
<line x1="403.50" y1="630.10" x2="403.50" y2="633.30" stroke="#333" stroke-width="1"/>
<line x1="409.50" y1="630.10" x2="409.50" y2="634.10" stroke="#333" stroke-width="1"/>
<text x="409.82" y="648.20" font-size="11.8" text-anchor="middle">60</text>
<line x1="415.50" y1="630.10" x2="415.50" y2="633.30" stroke="#333" stroke-width="1"/>
<line x1="421.50" y1="630.10" x2="421.50" y2="633.30" stroke="#333" stroke-width="1"/>
<line x1="427.50" y1="630.10" x2="427.50" y2="633.30" stroke="#333" stroke-width="1"/>
<line x1="433.50" y1="630.10" x2="433.50" y2="633.30" stroke="#333" stroke-width="1"/>
<line x1="439.50" y1="630.10" x2="439.50" y2="634.10" stroke="#333" stroke-width="1"/>
<text x="439.20" y="648.20" font-size="11.8" text-anchor="middle">65</text>
<line x1="445.50" y1="630.10" x2="445.50" y2="633.30" stroke="#333" stroke-width="1"/>
<line x1="450.50" y1="630.10" x2="450.50" y2="633.30" stroke="#333" stroke-width="1"/>
<line x1="456.50" y1="630.10" x2="456.50" y2="633.30" stroke="#333" stroke-width="1"/>
<line x1="462.50" y1="630.10" x2="462.50" y2="633.30" stroke="#333" stroke-width="1"/>
<line x1="468.50" y1="630.10" x2="468.50" y2="634.10" stroke="#333" stroke-width="1"/>
<text x="468.59" y="648.20" font-size="11.8" text-anchor="middle">70</text>
<line x1="474.50" y1="630.10" x2="474.50" y2="633.30" stroke="#333" stroke-width="1"/>
<line x1="480.50" y1="630.10" x2="480.50" y2="633.30" stroke="#333" stroke-width="1"/>
<line x1="486.50" y1="630.10" x2="486.50" y2="633.30" stroke="#333" stroke-width="1"/>
<line x1="492.50" y1="630.10" x2="492.50" y2="633.30" stroke="#333" stroke-width="1"/>
<line x1="497.50" y1="630.10" x2="497.50" y2="634.10" stroke="#333" stroke-width="1"/>
<text x="497.97" y="648.20" font-size="11.8" text-anchor="middle">75</text>
<line x1="503.50" y1="630.10" x2="503.50" y2="633.30" stroke="#333" stroke-width="1"/>
<line x1="509.50" y1="630.10" x2="509.50" y2="633.30" stroke="#333" stroke-width="1"/>
<line x1="515.50" y1="630.10" x2="515.50" y2="633.30" stroke="#333" stroke-width="1"/>
<line x1="521.50" y1="630.10" x2="521.50" y2="633.30" stroke="#333" stroke-width="1"/>
<line x1="527.50" y1="630.10" x2="527.50" y2="634.10" stroke="#333" stroke-width="1"/>
<text x="527.36" y="648.20" font-size="11.8" text-anchor="middle">80</text>
<line x1="533.50" y1="630.10" x2="533.50" y2="633.30" stroke="#333" stroke-width="1"/>
<line x1="539.50" y1="630.10" x2="539.50" y2="633.30" stroke="#333" stroke-width="1"/>
<line x1="544.50" y1="630.10" x2="544.50" y2="633.30" stroke="#333" stroke-width="1"/>
<line x1="550.50" y1="630.10" x2="550.50" y2="633.30" stroke="#333" stroke-width="1"/>
<line x1="556.50" y1="630.10" x2="556.50" y2="634.10" stroke="#333" stroke-width="1"/>
<text x="556.75" y="648.20" font-size="11.8" text-anchor="middle">85</text>
<line x1="562.50" y1="630.10" x2="562.50" y2="633.30" stroke="#333" stroke-width="1"/>
<line x1="568.50" y1="630.10" x2="568.50" y2="633.30" stroke="#333" stroke-width="1"/>
<line x1="574.50" y1="630.10" x2="574.50" y2="633.30" stroke="#333" stroke-width="1"/>
<line x1="580.50" y1="630.10" x2="580.50" y2="633.30" stroke="#333" stroke-width="1"/>
<line x1="586.50" y1="630.10" x2="586.50" y2="634.10" stroke="#333" stroke-width="1"/>
<text x="586.13" y="648.20" font-size="11.8" text-anchor="middle">90</text>
<line x1="592.50" y1="630.10" x2="592.50" y2="633.30" stroke="#333" stroke-width="1"/>
<line x1="597.50" y1="630.10" x2="597.50" y2="633.30" stroke="#333" stroke-width="1"/>
<line x1="603.50" y1="630.10" x2="603.50" y2="633.30" stroke="#333" stroke-width="1"/>
<line x1="609.50" y1="630.10" x2="609.50" y2="633.30" stroke="#333" stroke-width="1"/>
<line x1="615.50" y1="630.10" x2="615.50" y2="634.10" stroke="#333" stroke-width="1"/>
<text x="615.51" y="648.20" font-size="11.8" text-anchor="middle">95</text>
<line x1="621.50" y1="630.10" x2="621.50" y2="633.30" stroke="#333" stroke-width="1"/>
<line x1="627.50" y1="630.10" x2="627.50" y2="633.30" stroke="#333" stroke-width="1"/>
<line x1="633.50" y1="630.10" x2="633.50" y2="633.30" stroke="#333" stroke-width="1"/>
<line x1="639.50" y1="630.10" x2="639.50" y2="633.30" stroke="#333" stroke-width="1"/>
<line x1="644.50" y1="630.10" x2="644.50" y2="634.10" stroke="#333" stroke-width="1"/>
<text x="644.90" y="648.20" font-size="11.8" text-anchor="middle">100</text>
<line x1="650.50" y1="630.10" x2="650.50" y2="633.30" stroke="#333" stroke-width="1"/>
<line x1="656.50" y1="630.10" x2="656.50" y2="633.30" stroke="#333" stroke-width="1"/>
<line x1="662.50" y1="630.10" x2="662.50" y2="633.30" stroke="#333" stroke-width="1"/>
<line x1="668.50" y1="630.10" x2="668.50" y2="633.30" stroke="#333" stroke-width="1"/>
<line x1="674.50" y1="630.10" x2="674.50" y2="634.10" stroke="#333" stroke-width="1"/>
<text x="674.28" y="648.20" font-size="11.8" text-anchor="middle">105</text>
<path d="M57.20,416.70 C60.26,419.57 69.44,430.18 75.57,433.90 C81.69,437.62 87.38,432.08 93.93,439.00 C103.11,448.70 112.30,479.95 130.66,492.10 C149.03,504.25 167.59,501.31 204.12,511.90 C240.86,522.55 277.59,541.55 351.05,556.00 C424.51,570.45 595.92,591.50 644.90,598.60" fill="none" stroke="#00B0F0" stroke-width="3.2" stroke-linecap="round"/>
<path d="M75.77,423.40 V444.40 M72.47,423.40 H79.07 M72.47,444.40 H79.07" stroke="#595959" stroke-width="1.1" fill="none"/>
<path d="M94.13,426.50 V450.30 M90.83,426.50 H97.43 M90.83,450.30 H97.43" stroke="#595959" stroke-width="1.1" fill="none"/>
<path d="M130.86,484.70 V500.20 M127.56,484.70 H134.16 M127.56,500.20 H134.16" stroke="#595959" stroke-width="1.1" fill="none"/>
<path d="M204.32,499.20 V523.50 M201.02,499.20 H207.62 M201.02,523.50 H207.62" stroke="#595959" stroke-width="1.1" fill="none"/>
<path d="M351.25,550.60 V561.10 M347.95,550.60 H354.55 M347.95,561.10 H354.55" stroke="#595959" stroke-width="1.1" fill="none"/>
<circle cx="57.20" cy="416.70" r="3.8" fill="#4A7EC4"/>
<circle cx="75.57" cy="433.90" r="3.8" fill="#4A7EC4"/>
<circle cx="93.93" cy="439.00" r="3.8" fill="#4A7EC4"/>
<circle cx="130.66" cy="492.10" r="3.8" fill="#4A7EC4"/>
<circle cx="204.12" cy="511.90" r="3.8" fill="#4A7EC4"/>
<circle cx="351.05" cy="556.00" r="3.8" fill="#4A7EC4"/>
<circle cx="644.90" cy="598.60" r="3.8" fill="#4A7EC4"/>
<g fill="#111"><ellipse cx="204.30" cy="493.15" rx="1.30" ry="0.94" transform="rotate(-90.0 204.30 493.15)"/><ellipse cx="206.15" cy="494.50" rx="1.30" ry="0.94" transform="rotate(-18.0 206.15 494.50)"/><ellipse cx="205.45" cy="496.68" rx="1.30" ry="0.94" transform="rotate(54.0 205.45 496.68)"/><ellipse cx="203.15" cy="496.68" rx="1.30" ry="0.94" transform="rotate(126.0 203.15 496.68)"/><ellipse cx="202.45" cy="494.50" rx="1.30" ry="0.94" transform="rotate(198.0 202.45 494.50)"/><circle cx="204.30" cy="495.10" r="1.04"/></g>
<g fill="#111"><ellipse cx="351.10" cy="537.35" rx="1.30" ry="0.94" transform="rotate(-90.0 351.10 537.35)"/><ellipse cx="352.95" cy="538.70" rx="1.30" ry="0.94" transform="rotate(-18.0 352.95 538.70)"/><ellipse cx="352.25" cy="540.88" rx="1.30" ry="0.94" transform="rotate(54.0 352.25 540.88)"/><ellipse cx="349.95" cy="540.88" rx="1.30" ry="0.94" transform="rotate(126.0 349.95 540.88)"/><ellipse cx="349.25" cy="538.70" rx="1.30" ry="0.94" transform="rotate(198.0 349.25 538.70)"/><circle cx="351.10" cy="539.30" r="1.04"/></g>
<g fill="#111"><ellipse cx="644.70" cy="580.05" rx="1.30" ry="0.94" transform="rotate(-90.0 644.70 580.05)"/><ellipse cx="646.55" cy="581.40" rx="1.30" ry="0.94" transform="rotate(-18.0 646.55 581.40)"/><ellipse cx="645.85" cy="583.58" rx="1.30" ry="0.94" transform="rotate(54.0 645.85 583.58)"/><ellipse cx="643.55" cy="583.58" rx="1.30" ry="0.94" transform="rotate(126.0 643.55 583.58)"/><ellipse cx="642.85" cy="581.40" rx="1.30" ry="0.94" transform="rotate(198.0 642.85 581.40)"/><circle cx="644.70" cy="582.00" r="1.04"/></g>
<rect x="341.6" y="393.9" width="191.5" height="24.0" fill="#fff" stroke="#000" stroke-width="2.2"/>
<text transform="translate(1.60,14.50) rotate(0) scale(0.897,1)" font-size="20.50">A</text>
<text transform="translate(3.60,377.00) rotate(0) scale(0.951,1)" font-size="18.50">B</text>
<text transform="translate(13.30,238.10) rotate(-90) scale(1.016,1)" font-size="14.60">Percentage</text>
<text transform="translate(13.30,166.60) rotate(-90) scale(1.014,1)" font-size="14.60">of</text>
<text transform="translate(13.30,153.80) rotate(-90) scale(1.047,1)" font-size="14.60">Cell</text>
<text transform="translate(13.30,125.70) rotate(-90) scale(0.964,1)" font-size="14.60">Viability</text>
<text transform="translate(13.40,67.80) rotate(-90) scale(0.924,1)" font-size="14.60">(%)</text>
<text transform="translate(16.10,592.70) rotate(-90) scale(1.000,1)" font-size="13.80">Percentage</text>
<text transform="translate(16.30,525.70) rotate(-90) scale(1.113,1)" font-size="13.80">of</text>
<text transform="translate(16.30,512.50) rotate(-90) scale(1.005,1)" font-size="13.80">Cell</text>
<text transform="translate(16.10,485.40) rotate(-90) scale(0.906,1)" font-size="13.80">Viability</text>
<text transform="translate(15.80,433.30) rotate(-90) scale(0.918,1)" font-size="13.80">(%)</text>
<text transform="translate(303.00,313.00) rotate(0) scale(1.052,1)" font-size="13.60">Concentration (&#181;M)</text>
<text transform="translate(309.20,670.70) rotate(0) scale(1.009,1)" font-size="13.00">Concentration (&#181;M)</text>
<text transform="translate(306.00,336.10) rotate(0) scale(1.025,1)" font-size="12.50">FLDP-5</text>
<text transform="translate(393.80,336.10) rotate(0) scale(1.049,1)" font-size="12.50">FLDP-8</text>
<text transform="translate(374.90,57.40) rotate(0) scale(0.988,1)" font-size="17.20">IC50 FLDP-5 : 2.4 &#181;M</text>
<text transform="translate(381.30,93.70) rotate(0) scale(0.994,1)" font-size="17.20">IC50 FLDP-8 : 4 &#181;M</text>
<text transform="translate(356.30,413.20) rotate(0) scale(1.000,1)" font-size="16.00">IC<tspan font-size="0.78em">50</tspan> Curcumin : 31 &#181;M</text>
<g stroke="#E00000" stroke-width="2.3" fill="none">
<path d="M47.2,154.4 L175.5,155.2" stroke-dasharray="5.9 2.3"/>
<path d="M129.3,158.0 L129.3,262.6" stroke-dasharray="5.7 2.45"/>
<path d="M175.5,154.0 L175.5,161.9"/>
<path d="M175.5,164.5 L175.5,262.6" stroke-dasharray="5.7 2.45"/>
</g>
<path d="M125.2,262.4 L133.5,262.4 L129.35,271 Z" fill="#FF0000"/>
<path d="M171.0,262.4 L179.4,262.4 L175.2,271.2 Z" fill="#FF0000"/>
<g stroke="#FF0000" stroke-width="1.9" fill="none" stroke-dasharray="5.5 2.2">
<path d="M50.6,523.6 L240.2,523.8"/>
<path d="M240.2,524.2 L240.2,625"/>
</g>
<path d="M236.0,624.6 L244.0,624.6 L240.0,632.6 Z" fill="#FF0000"/>
</svg></body></html>
